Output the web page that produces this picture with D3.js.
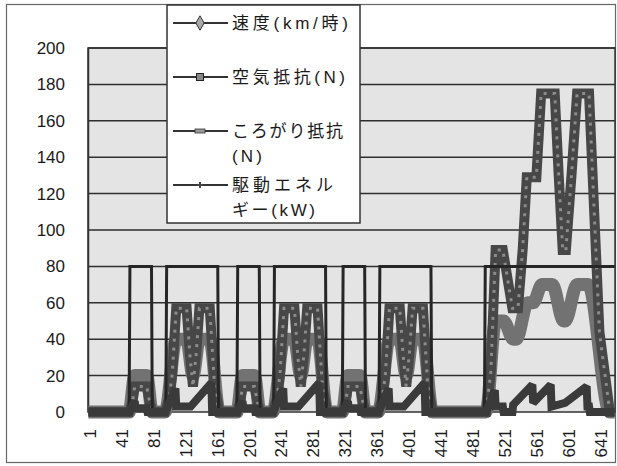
<!DOCTYPE html>
<html>
<head>
<meta charset="utf-8">
<script src="https://cdn.jsdelivr.net/npm/d3@7"></script>
<style>
body { margin: 0; background: #fff; }
text { font-family: "Liberation Sans", Arial, sans-serif; fill: #1a1a1a; }
.jp { font-family: "Liberation Sans", "Noto Sans CJK JP", sans-serif; }
</style>
</head>
<body>
<script>
var width = 617,
    height = 466,
    plotLeft = 88,
    plotRight = 615,
    plotTop = 48,
    plotBottom = 412
;

// axis categories and ticks
var nPoints = 660;
var xTicks = [1, 41, 81, 121, 161, 201, 241, 281, 321, 361, 401, 441, 481, 521, 561, 601, 641];
var yTicks = [0, 20, 40, 60, 80, 100, 120, 140, 160, 180, 200];

// legend labels (wrapped as in the picture)
var seriesLabels = [
    ["速度(km/時)"],
    ["空気抵抗(N)"],
    ["ころがり抵抗", "(N)"],
    ["駆動エネル", "ギー(kW)"]
];

// 10 mode runs three times, start sample of each run
var cycleStarts = [32, 167, 299];

// 10 mode, [second in cycle, value]
var speed10 = [[20, 0], [27, 20], [42, 20], [49, 0], [65, 0], [79, 40], [92, 40], [100, 20], [108, 40], [121, 40], [133, 0]];
var air10 = [[20, 0], [24, 5], [27, 14], [42, 14], [46, 5], [49, 0], [65, 0], [70, 7], [74, 21], [79, 57], [92, 57], [96, 32], [100, 14], [104, 32], [108, 57], [121, 57], [127, 14], [133, 0]];
var rolling10 = [[20, 0], [21, 80], [48, 80], [49, 0], [66, 0], [67, 80], [131, 80], [132, 0]];
var drive10 = [[20, 0], [27, 6], [28, 2], [42, 2], [43, 0], [65, 0], [78, 13], [79, 3], [97, 3], [123, 16], [124, 0], [133, 0]];

// 15 mode, [sample, value]
var speed15 = [[499, 0], [511, 50], [521, 50], [533, 40], [537, 40], [551, 60], [558, 60], [569, 70], [582, 70], [596, 50], [598, 50], [613, 70], [627, 70], [654, 0], [660, 0]];
var air15 = [[499, 0], [505, 22], [511, 89], [520, 89], [532, 57], [539, 57], [545, 90], [550, 129], [562, 129], [568, 175], [585, 175], [590, 130], [595, 89], [599, 89], [606, 130], [613, 175], [628, 175], [641, 44], [654, 0], [660, 0]];
var rolling15 = [[497, 0], [498, 80], [660, 80]];
var drive15 = [[499, 0], [510, 12], [511, 3], [520, 3], [521, 0], [532, 0], [533, 4], [557, 15], [558, 5], [580, 15], [581, 3], [598, 5], [625, 14], [626, 3], [628, 3], [629, 0], [660, 0]];

function build(tenMode, fifteenMode) {
    var pts = [[1, 0]];
    cycleStarts.forEach(function (c) {
        tenMode.forEach(function (d) { pts.push([c + d[0], d[1]]); });
    });
    return pts.concat(fifteenMode);
}

var series = [
    build(speed10, speed15),
    build(air10, air15),
    build(rolling10, rolling15),
    build(drive10, drive15)
];

// drawing styles per series
var strokeColors = ["#727272", "#474747", "#262626", "#3a3a3a"];
var strokeWidths = [13, 10, 3, 8];

var svg = d3.select("body").append("svg")
    .attr("width", width)
    .attr("height", height)
;

// outer frame
svg.append("rect")
    .attr("x", 6.5)
    .attr("y", 4.5)
    .attr("width", 609)
    .attr("height", 458)
    .attr("fill", "#fff")
    .attr("stroke", "#666")
    .attr("stroke-width", 1.2)
;

var x = d3.scaleLinear()
    .domain([0.5, nPoints + 0.5])
    .range([plotLeft, plotRight])
;

var y = d3.scaleLinear()
    .domain([0, 200])
    .range([plotBottom, plotTop])
;

// plot area
svg.append("rect")
    .attr("x", plotLeft)
    .attr("y", plotTop)
    .attr("width", plotRight - plotLeft)
    .attr("height", plotBottom - plotTop)
    .attr("fill", "#e4e4e4")
    .attr("stroke", "#333")
    .attr("stroke-width", 1.5)
;

// gridlines
svg.append("g")
    .selectAll("line")
    .data(yTicks.slice(1))
    .join("line")
    .attr("x1", plotLeft)
    .attr("x2", plotRight)
    .attr("y1", function (d) { return y(d); })
    .attr("y2", function (d) { return y(d); })
    .attr("stroke", "#2e2e2e")
    .attr("stroke-width", 1.5)
;

// y axis
var yAxis = d3.axisLeft(y)
    .tickValues(yTicks)
    .tickSize(0)
    .tickPadding(23)
;
var gy = svg.append("g")
    .attr("transform", `translate(${plotLeft},0)`)
    .call(yAxis);
gy.select(".domain").attr("stroke", "#333").attr("stroke-width", 1.5);
gy.selectAll("text").attr("font-size", 17).attr("font-family", "Liberation Sans, Arial, sans-serif").attr("fill", "#1a1a1a");

// x axis labels, rotated
var gx = svg.append("g");
gx.selectAll("text")
    .data(xTicks)
    .join("text")
    .attr("transform", function (d) { return `translate(${x(d) + 1.5},429) rotate(-90)`; })
    .attr("text-anchor", "end")
    .attr("dy", "0.35em")
    .attr("font-size", 17)
    .text(function (d) { return d; })
;

// series lines
var line = d3.line()
    .x(function (d) { return x(d[0]); })
    .y(function (d) { return y(d[1]); })
;
var smoothLine = d3.line()
    .x(function (d) { return x(d[0]); })
    .y(function (d) { return y(d[1]); })
    .curve(d3.curveMonotoneX)
;

for (i = 0; i < series.length; i++) {
    svg.append("path")
        .datum(series[i])
        .attr("d", i == 0 ? smoothLine : line)
        .attr("fill", "none")
        .attr("stroke", strokeColors[i])
        .attr("stroke-width", strokeWidths[i])
        .attr("stroke-linejoin", i == 0 ? "round" : "miter")
        .attr("stroke-miterlimit", 2)
    ;
    if (i == 1) {
        // square markers show through as lighter dots
        svg.append("path")
            .datum(series[1])
            .attr("d", line)
            .attr("fill", "none")
            .attr("stroke", "#8c8c8c")
            .attr("stroke-width", 3)
            .attr("stroke-dasharray", "3 6")
        ;
    }
}

// legend
var legX = 167, legY = 5;
svg.append("rect")
    .attr("x", legX)
    .attr("y", legY)
    .attr("width", 193)
    .attr("height", 218)
    .attr("fill", "#fff")
    .attr("stroke", "#333")
    .attr("stroke-width", 1.5)
;

var legRows = [23, 77, 131, 185];
var lineGap = 25;
var legWidths = [[116], [113], [111, 30], [101, 83]];
var leg = svg.append("g");
for (i = 0; i < seriesLabels.length; i++) {
    var ly = legRows[i];
    leg.append("line")
        .attr("x1", 173)
        .attr("x2", 228)
        .attr("y1", ly)
        .attr("y2", ly)
        .attr("stroke", "#333")
        .attr("stroke-width", 2)
    ;
    seriesLabels[i].forEach(function (t, k) {
        leg.append("text")
            .attr("class", "jp")
            .attr("x", 232)
            .attr("y", ly + k * lineGap)
            .attr("dy", "0.35em")
            .attr("font-size", 17)
            .attr("textLength", legWidths[i][k])
            .attr("lengthAdjust", "spacing")
            .text(t)
        ;
    });
}

// legend markers
leg.append("path")
    .attr("d", d3.symbol(d3.symbolDiamond, 60)())
    .attr("transform", `translate(200,${legRows[0]})`)
    .attr("fill", "#aaa")
    .attr("stroke", "#333")
;
leg.append("rect")
    .attr("x", 196.5)
    .attr("y", legRows[1] - 3.5)
    .attr("width", 7)
    .attr("height", 7)
    .attr("fill", "#888")
    .attr("stroke", "#222")
;
leg.append("rect")
    .attr("x", 195)
    .attr("y", legRows[2] - 2)
    .attr("width", 10)
    .attr("height", 4)
    .attr("fill", "#999")
    .attr("stroke", "#333")
    .attr("stroke-width", 0.8)
;
leg.append("path")
    .attr("d", d3.symbol(d3.symbolCross, 20)())
    .attr("transform", `translate(200,${legRows[3]})`)
    .attr("fill", "#444")
;
</script>
</body>
</html>
